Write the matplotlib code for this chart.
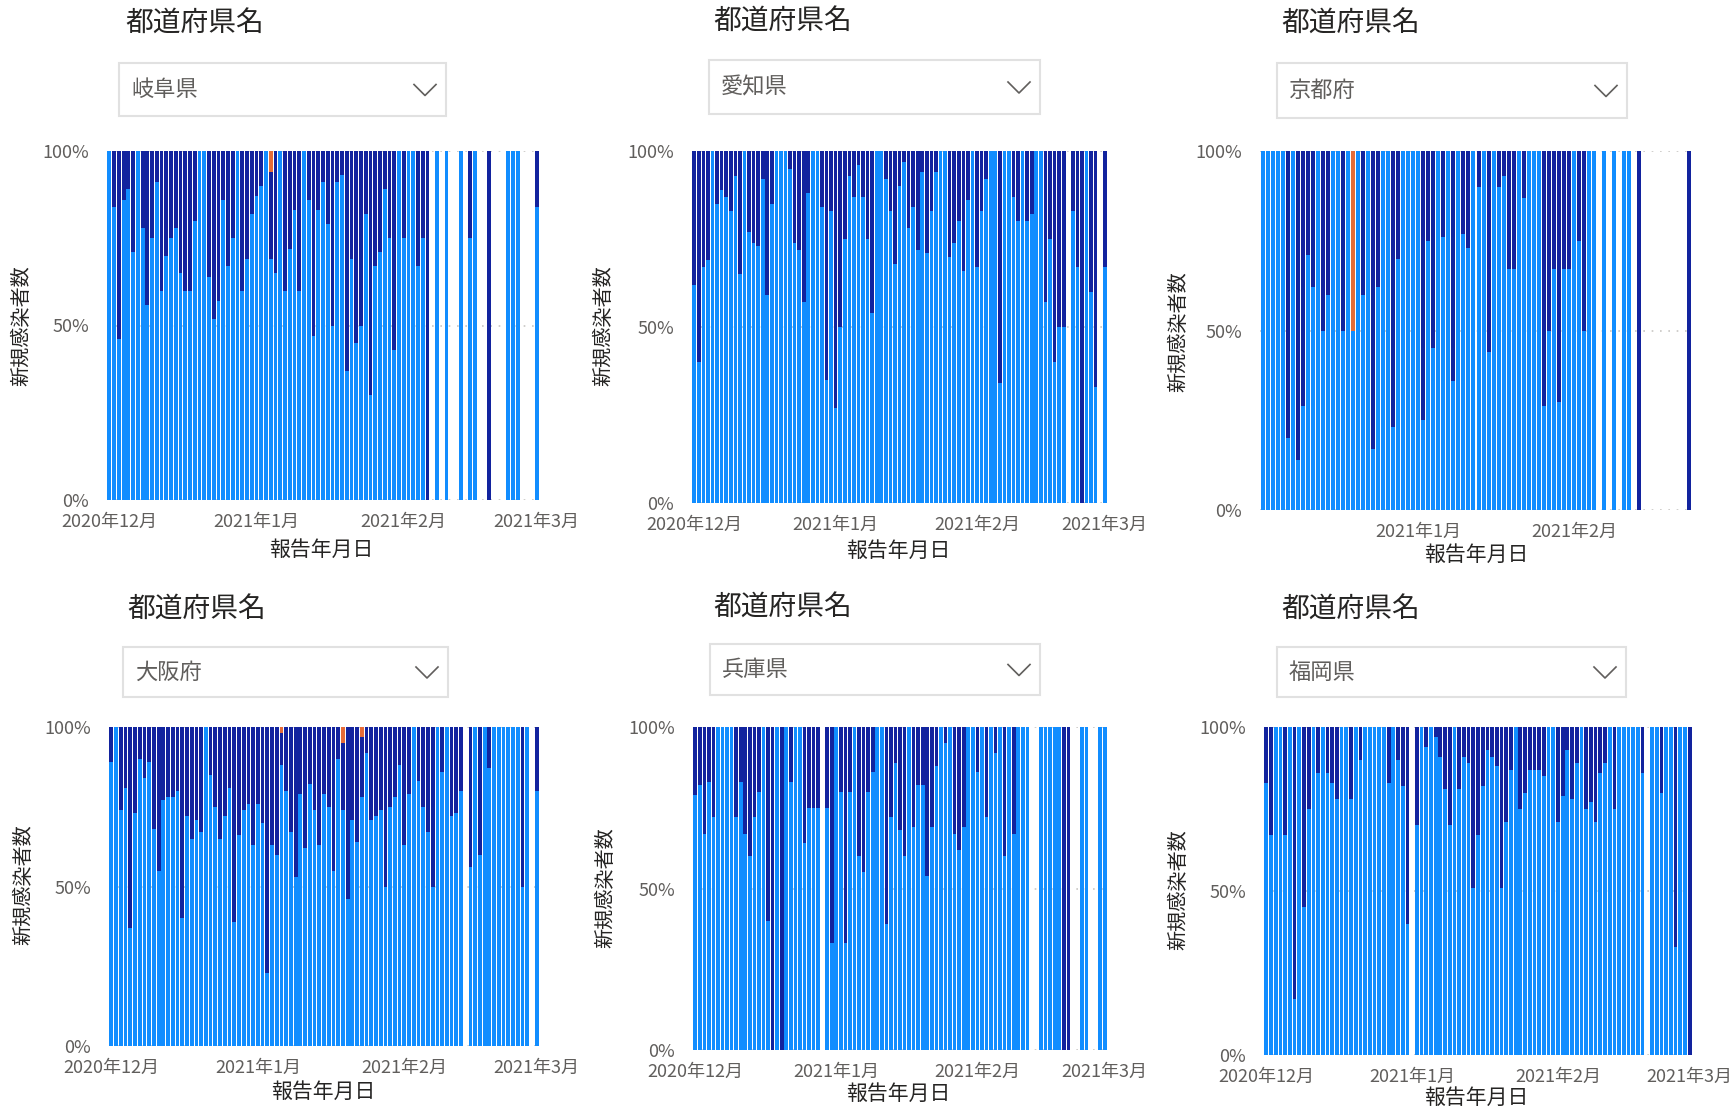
import numpy as np
import matplotlib.pyplot as plt
from matplotlib.patches import Rectangle
from matplotlib.lines import Line2D

plt.rcParams['font.family'] = ['Noto Sans CJK JP', 'DejaVu Sans']

W, H = 1734, 1107
C_LIGHT = '#118DFF'
C_DARK = '#12239E'
C_ORANGE = '#E66C37'

################# data (share of new cases in %, day 0 = 2020-12-01)

tick_days = [0, 31, 62, 90]
tick_labels = ['2020年12月', '2021年1月', '2021年2月', '2021年3月']

gifu_days = list(range(0, 68)) + [69, 71, 74, 76, 77, 80, 84, 85, 86, 90]
gifu_light = [100, 84, 46, 86, 89, 71, 100, 78, 56, 75,
              91, 60, 70, 75, 78, 65, 60, 60, 80, 100,
              100, 64, 52, 57, 86, 67, 75, 100, 60, 69,
              82, 87, 90, 100, 69, 65, 100, 60, 72, 83,
              60, 100, 86, 47, 83, 91, 79, 50, 91, 93,
              37, 69, 45, 50, 82, 30, 67, 71, 89, 75,
              43, 100, 75, 100, 100, 67, 75, 0,
              100, 100, 100, 75, 100, 0, 100, 100, 100, 84]
gifu_orange = {34: 6}

aichi_days = list(range(0, 82)) + [83, 84, 85, 86, 87, 88, 90]
aichi_light = [62, 40, 67, 69, 100, 85, 89, 87, 83, 93,
               65, 100, 77, 74, 73, 92, 59, 85, 100, 100,
               100, 95, 74, 72, 57, 88, 100, 100, 84, 35,
               83, 27, 50, 75, 93, 87, 96, 87, 75, 54,
               100, 100, 92, 83, 68, 90, 97, 78, 84, 72,
               94, 71, 83, 94, 100, 100, 70, 74, 80, 66,
               86, 100, 67, 83, 92, 100, 100, 34, 100, 100,
               87, 80, 100, 80, 82, 100, 100, 57, 75, 40,
               50, 50,
               83, 67, 0, 100, 60, 33, 67]
aichi_orange = {}

kyoto_days = list(range(0, 67)) + [68, 70, 72, 73, 75, 85]
kyoto_light = [100, 100, 100, 100, 100, 20, 100, 14, 29, 71,
               62, 100, 50, 60, 100, 100, 50, 100, 50, 100,
               60, 100, 17, 62, 100, 100, 23, 70, 100, 100,
               100, 100, 25, 75, 45, 100, 76, 100, 36, 100,
               77, 73, 100, 90, 100, 44, 100, 90, 93, 67,
               67, 100, 87, 100, 100, 100, 29, 50, 67, 30,
               67, 67, 100, 75, 50, 100, 100,
               100, 100, 100, 100, 0, 0]
kyoto_orange = {18: 50}
kyoto_ticks = [31, 62]
kyoto_tick_labels = ['2021年1月', '2021年2月']

osaka_days = list(range(0, 75)) + list(range(76, 89)) + [90]
osaka_light = [89, 100, 74, 81, 37, 73, 90, 84, 89, 68,
               55, 77, 78, 78, 80, 40, 72, 65, 71, 67,
               100, 85, 75, 65, 72, 81, 39, 66, 74, 76,
               63, 76, 70, 23, 63, 60, 88, 80, 67, 53,
               79, 62, 82, 74, 63, 79, 75, 55, 90, 74,
               46, 71, 64, 78, 92, 71, 72, 74, 50, 75,
               78, 88, 63, 79, 100, 83, 75, 67, 50, 100,
               86, 100, 72, 73, 80,
               56, 100, 60, 100, 87, 100, 100, 100, 100, 100,
               100, 50, 100, 80]
osaka_orange = {36: 2, 49: 5, 53: 3}

hyogo_days = list(range(0, 28)) + list(range(29, 74)) + [76, 77, 78, 79, 80, 81, 82, 85, 86, 89, 90]
hyogo_light = [79, 82, 67, 83, 72, 100, 100, 100, 100, 72,
               83, 67, 60, 72, 80, 100, 40, 0, 100, 0,
               100, 83, 100, 100, 64, 75, 75, 75,
               75, 33, 100, 80, 33, 80, 100, 60, 55, 80,
               86, 100, 100, 39, 72, 89, 68, 60, 100, 69,
               82, 82, 54, 69, 88, 100, 95, 100, 67, 62,
               69, 100, 100, 86, 100, 72, 100, 92, 100, 60,
               100, 67, 100, 100, 100,
               100, 100, 100, 100, 100, 0, 0, 100, 100, 100, 100]
hyogo_orange = {}

fukuoka_days = list(range(0, 31)) + list(range(32, 81)) + list(range(82, 91))
fukuoka_light = [83, 67, 100, 100, 67, 100, 17, 100, 45, 75,
                 100, 86, 100, 86, 83, 78, 100, 100, 78, 100,
                 90, 100, 100, 100, 100, 100, 83, 100, 90, 82,
                 40,
                 70, 100, 94, 100, 97, 91, 81, 70, 100, 81,
                 91, 89, 51, 67, 82, 93, 91, 88, 51, 71,
                 87, 100, 75, 80, 87, 87, 87, 85, 100, 100,
                 71, 79, 93, 78, 89, 100, 75, 77, 71, 86,
                 89, 100, 75, 100, 100, 100, 100, 100, 86,
                 100, 100, 80, 100, 100, 33, 100, 100, 0]
fukuoka_orange = {}

# panel layout in pixels: plot box, title, dropdown box, axis titles
panels = [
    dict(name='岐阜県', days=gifu_days, light=gifu_light, orange=gifu_orange,
         plot=(107, 151, 539, 500), xmax=90.5, title=(125, 24), box=(119, 63, 446, 116),
         xt=(321, 550), yt=(22, 326)),
    dict(name='愛知県', days=aichi_days, light=aichi_light, orange=aichi_orange,
         plot=(692, 151, 1107, 503), xmax=90.5, title=(713, 22), box=(709, 60, 1040, 114),
         xt=(898, 551), yt=(604, 326)),
    dict(name='京都府', days=kyoto_days, light=kyoto_light, orange=kyoto_orange,
         plot=(1260, 151, 1692, 510), xmax=85.5, title=(1281, 24), box=(1277, 63, 1627, 118),
         xt=(1476, 555), yt=(1179, 332), ticks=kyoto_ticks, labels=kyoto_tick_labels),
    dict(name='大阪府', days=osaka_days, light=osaka_light, orange=osaka_orange,
         plot=(109, 727, 539, 1046), xmax=90.5, title=(127, 610), box=(123, 647, 448, 697),
         xt=(323, 1092), yt=(24, 885)),
    dict(name='兵庫県', days=hyogo_days, light=hyogo_light, orange=hyogo_orange,
         plot=(693, 727, 1107, 1050), xmax=90.5, title=(713, 608), box=(710, 644, 1040, 695),
         xt=(898, 1094), yt=(606, 888)),
    dict(name='福岡県', days=fukuoka_days, light=fukuoka_light, orange=fukuoka_orange,
         plot=(1264, 727, 1692, 1055), xmax=90.5, title=(1281, 610), box=(1277, 647, 1626, 697),
         xt=(1476, 1098), yt=(1179, 890)),
]


def fx(x):
    return x / W


def fy(y):
    return 1 - y / H


def draw_panel(fig, p):
    x0, y0, x1, y1 = p['plot']
    ax = fig.add_axes([fx(x0), fy(y1), (x1 - x0) / W, (y1 - y0) / H])

    days = np.array(p['days'])
    light = np.array(p['light'], dtype=float)
    orange = np.array([p['orange'].get(d, 0) for d in p['days']], dtype=float)
    dark = 100 - light - orange

    ax.bar(days, light, width=0.8, color=C_LIGHT, linewidth=0, zorder=2)
    ax.bar(days, dark, bottom=light, width=0.8, color=C_DARK, linewidth=0, zorder=2)
    ax.bar(days, orange, bottom=light + dark, width=0.8, color=C_ORANGE, linewidth=0, zorder=2)

    ax.set_xlim(-0.5, p['xmax'])
    ax.set_ylim(0, 100)
    ax.set_yticks([0, 50, 100])
    ax.set_yticklabels(['0%', '50%', '100%'])
    ax.set_xticks(p.get('ticks', tick_days))
    ax.set_xticklabels(p.get('labels', tick_labels))
    ax.tick_params(axis='both', length=0, labelsize=13, labelcolor='#605E5C')
    ax.tick_params(axis='y', pad=13)
    ax.tick_params(axis='x', pad=9)
    for s in ax.spines.values():
        s.set_visible(False)
    ax.yaxis.grid(True, color='#C8C6C4', linestyle=(0, (1, 4)), linewidth=1.2, zorder=0)
    ax.set_axisbelow(True)

    # slicer header and dropdown
    tx, ty = p['title']
    fig.text(fx(tx), fy(ty), '都道府県名', fontsize=20, color='#252423', va='center', ha='left')
    bx0, by0, bx1, by1 = p['box']
    fig.patches.append(Rectangle((fx(bx0), fy(by1)), (bx1 - bx0) / W, (by1 - by0) / H,
                                 transform=fig.transFigure, facecolor='white',
                                 edgecolor='#E1E1E1', linewidth=1.5))
    fig.text(fx(bx0 + 12), fy((by0 + by1) / 2), p['name'], fontsize=16, color='#605E5C',
             va='center', ha='left')
    cx, cy = bx1 - 21, (by0 + by1) / 2
    fig.lines.append(Line2D([fx(cx - 11), fx(cx), fx(cx + 11)], [fy(cy - 5), fy(cy + 6), fy(cy - 5)],
                            transform=fig.transFigure, color='#605E5C', linewidth=1.2))

    # axis titles
    xx, xy = p['xt']
    fig.text(fx(xx), fy(xy), '報告年月日', fontsize=15, color='#252423', ha='center', va='center')
    yx, yy = p['yt']
    fig.text(fx(yx), fy(yy), '新規感染者数', fontsize=14.5, color='#252423', ha='center',
             va='center', rotation=90)
    return ax


fig = plt.figure(figsize=(W / 100, H / 100), dpi=100)
fig.patch.set_facecolor('white')
for p in panels:
    draw_panel(fig, p)

fig.savefig('out.png', dpi=100, facecolor='white')
